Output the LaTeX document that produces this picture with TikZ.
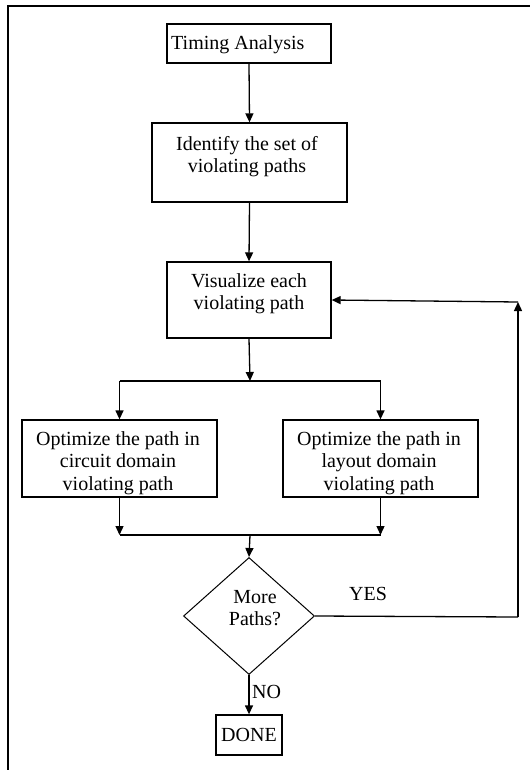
\documentclass[tikz,border=0pt]{standalone}
\usepackage{fontspec}
\setmainfont{Liberation Serif}
\usetikzlibrary{shapes.geometric,arrows.meta}
\begin{document}
\begin{tikzpicture}[x=1pt,y=-1pt,
  box/.style={draw=black,line width=1.3pt,inner sep=0pt,fill=none},
  txt/.style={inner sep=0pt,font=\fontsize{20}{22.5}\selectfont,align=center},
  conn/.style={line width=1.3pt},
  arr/.style={line width=1.3pt,-{Triangle[width=8pt,length=9pt]}}
]
\useasboundingbox (0,0) rectangle (530,770);
% frame
\draw[line width=2pt] (8,770) -- (8,6.5) -- (530,6.5);

% boxes
\node[box,minimum width=164pt,minimum height=39pt] (ta) at (249,43.5) {};
\node[box,minimum width=195pt,minimum height=79pt] (id) at (249.5,162.5) {};
\node[box,minimum width=164pt,minimum height=76pt] (vi) at (249,300) {};
\node[box,minimum width=195pt,minimum height=77pt] (oc) at (119.5,458.5) {};
\node[box,minimum width=195pt,minimum height=77pt] (ol) at (380.5,458.5) {};
\node[draw=black,line width=1pt,diamond,inner sep=0pt,minimum width=131pt,minimum height=117pt] (mp) at (249,616) {};
\node[box,minimum width=66pt,minimum height=40pt,txt] (dn) at (249,735) {DONE};

% texts
\node[txt,anchor=base west] (tat) at (171,50) {Timing Analysis};
\node[txt,anchor=north] (idt) at (247,136) {Identify the set of\\violating paths};
\node[txt,anchor=north] (vit) at (249,273) {Visualize each\\violating path};
\node[txt,anchor=north] (oct) at (118,431) {Optimize the path in\\circuit domain\\violating path};
\node[txt,anchor=north] (olt) at (379,431) {Optimize the path in\\layout domain\\violating path};
\node[txt,anchor=north] (mpt) at (255,590) {More\\Paths?};
\node[txt,anchor=base] (yes) at (368,600) {YES};
\node[txt,anchor=base west] (no) at (252,698) {NO};

% coordinates
\coordinate (s1) at (250,381);
\coordinate (bl) at (119.5,381);
\coordinate (br) at (380.5,381);
\coordinate (ml) at (119.5,535);
\coordinate (mr) at (380.5,535);
\coordinate (mc) at (250,535);
\coordinate (rc) at (518,617);
\coordinate (rt) at (518,302);

% connectors
\draw[arr] (ta.south) -- (id.north);
\draw[arr] (id.south) -- (vi.north);
\draw[arr] (vi.south) -- (s1);
\draw[conn] (bl) -- (br);
\draw[arr] (bl) -- (oc.north);
\draw[arr] (br) -- (ol.north);
\draw[arr] (oc.south) -- (ml);
\draw[arr] (ol.south) -- (mr);
\draw[conn] (ml) -- (mr);
\draw[arr] (mc) -- (mp.north);
\draw[conn] (mp.east) -- (rc);
\draw[arr] (rc) -- (rt);
\draw[arr] (rt) -- (vi.east);
\draw[arr] (mp.south) -- (dn.north);
\end{tikzpicture}
\end{document}
